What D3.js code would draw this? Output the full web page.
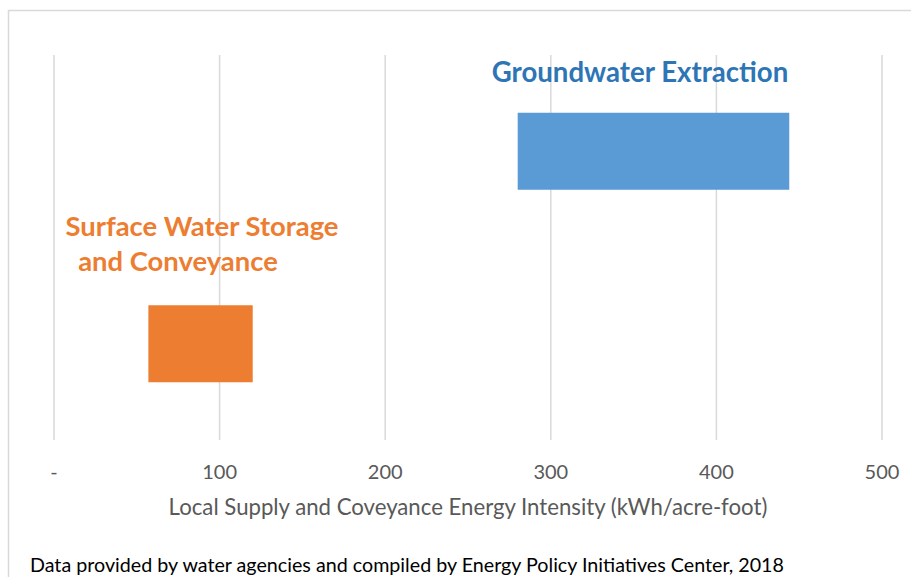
<!DOCTYPE html>
<html><head><meta charset="utf-8">
<script src="https://cdn.jsdelivr.net/npm/d3@7"></script>
<style>body{margin:0;background:#fff}svg{display:block;font-family:Lato,"Open Sans",sans-serif}</style>
</head><body><svg id="c" width="911" height="577"></svg>
<script>
const categories = ["Groundwater Extraction", "Surface Water Storage and Conveyance"];
const rangeStart = [280, 57];
const rangeEnd = [444, 120];
const colors = ["#5B9BD5", "#ED7D31"];
const labelColors = ["#2E75B6", "#ED7D31"];
const tickValues = [0, 100, 200, 300, 400, 500];
const tickLabels = ["-", "100", "200", "300", "400", "500"];
const axisTitle = "Local Supply and Coveyance Energy Intensity (kWh/acre-foot)";
const footer = "Data provided by water agencies and compiled by Energy Policy Initiatives Center, 2018";

const svg = d3.select("#c");
svg.append("rect").attr("x",8.5).attr("y",10.5).attr("width",960).attr("height",620)
  .attr("fill","none").attr("stroke","#D9D9D9").attr("stroke-width",1.5);

const x = d3.scaleLinear().domain([0,500]).range([54,882]);
const y = d3.scaleBand().domain(categories).range([55,440]).paddingInner(0.6).paddingOuter(0.3);

svg.append("g").selectAll("line").data(tickValues).join("line")
  .attr("x1",d=>x(d)).attr("x2",d=>x(d)).attr("y1",55).attr("y2",440)
  .attr("stroke","#D9D9D9").attr("stroke-width",1.5);

svg.append("g").selectAll("rect").data(categories).join("rect")
  .attr("x",(d,i)=>x(rangeStart[i])).attr("width",(d,i)=>x(rangeEnd[i])-x(rangeStart[i]))
  .attr("y",d=>y(d)).attr("height",y.bandwidth()).attr("fill",(d,i)=>colors[i]);

svg.append("g").selectAll("text").data(tickValues).join("text")
  .attr("x",d=>x(d)).attr("y",479).attr("text-anchor","middle")
  .attr("font-size",20).attr("fill","#595959").text((d,i)=>tickLabels[i]);

svg.append("text").attr("x",468).attr("y",515).attr("text-anchor","middle")
  .attr("font-size",22.2).attr("fill","#595959").text(axisTitle);

svg.append("text").attr("x",30).attr("y",572)
  .attr("font-size",19.7).attr("fill","#000").text(footer);

svg.append("text").attr("x",640).attr("y",82).attr("text-anchor","middle")
  .attr("font-size",27.6).attr("font-weight","bold").attr("fill",labelColors[0]).text(categories[0]);
const sl = svg.append("text").attr("font-size",27.4).attr("font-weight","bold").attr("fill",labelColors[1]).attr("text-anchor","middle");
sl.append("tspan").attr("x",202).attr("y",236).text("Surface Water Storage");
sl.append("tspan").attr("x",178).attr("y",271).text("and Conveyance");
</script></body></html>
